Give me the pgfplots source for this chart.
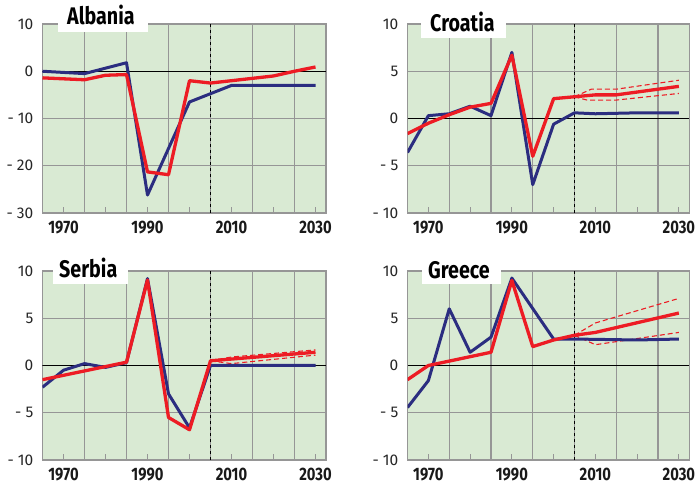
\documentclass[border=0pt]{standalone}
\usepackage{fontspec}
\setmainfont{Fira Sans}
\newfontfamily\condfont[FakeStretch=0.82]{Fira Sans}
\usepackage{pgfplots}
\pgfplotsset{compat=1.18}

\definecolor{bgg}{RGB}{217,234,211}
\definecolor{gridc}{RGB}{150,150,150}
\definecolor{navy}{RGB}{43,45,128}
\definecolor{bred}{RGB}{237,28,36}

\pgfplotsset{
  panel/.style={
    scale only axis, height=189pt,
    xmin=1965, xmax=2032.5,
    axis background/.style={fill=bgg},
    axis line style={gridc, line width=1.2pt},
    grid=major, major grid style={gridc, line width=1.2pt},
    xtick={1975,1985,...,2025}, xticklabels={},
    major tick length=0pt,
    minor xtick={1970,1980,...,2030},
    minor tick length=6pt, minor tick style={gridc, line width=0.9pt},
    tick align=inside, xtick pos=bottom, ytick pos=left,
    extra x ticks={1970,1990,2010,2030},
    extra x tick labels={1970,1990,2010,2030},
    extra x tick style={grid=none, major tick length=0pt,
      tick label style={font=\condfont\bfseries\fontsize{18}{18}\selectfont,
        text=black!90, inner sep=0pt, yshift=-8pt}},
    yticklabel style={font=\fontsize{15.5}{15.5}\selectfont, text=black!85,
      inner sep=0pt, xshift=-9pt},
  },
  blueline/.style={navy, line width=3pt, line join=round},
  redline/.style={bred, line width=3.3pt, line join=round},
  reddash/.style={bred, line width=1.1pt, dash pattern=on 5pt off 3pt},
}

\newcommand{\ttl}[1]{{\condfont\bfseries\fontsize{24}{24}\selectfont #1}}

\begin{document}
\begin{tikzpicture}
\path[use as bounding box] (0pt,0pt) rectangle (695pt,484pt);

% Albania
\begin{axis}[panel, width=283.5pt, at={(42.5pt,271pt)}, anchor=south west,
  ymin=-30, ymax=10, ytick={-30,-20,-10,0,10},
  yticklabels={- 30,- 20,- 10,0,10}]
\addplot[black, line width=0.8pt] coordinates {(1965,0) (2032.5,0)};
\addplot[black, line width=1pt, dashed] coordinates {(2005,-30) (2005,10)};
\addplot[blueline] coordinates {
  (1965,0) (1975,-0.5) (1985,1.8) (1990,-26.2) (2000,-6.5) (2010,-3.0) (2020,-3.0) (2030,-3.0)};
\addplot[redline] coordinates {
  (1965,-1.4) (1975,-1.8) (1980,-0.85) (1985,-0.7) (1990,-21.3) (1995,-21.9)
  (2000,-2.0) (2005,-2.5) (2010,-2.0) (2015,-1.5) (2020,-1.0) (2025,0) (2030,0.9)};
\end{axis}

% Croatia
\begin{axis}[panel, width=281.8pt, at={(407.5pt,271pt)}, anchor=south west,
  ymin=-10, ymax=10, ytick={-10,-5,0,5,10},
  yticklabels={- 10,- 5,0,5,10}]
\addplot[black, line width=0.8pt] coordinates {(1965,0) (2032.5,0)};
\addplot[black, line width=1pt, dashed] coordinates {(2005,-10) (2005,10)};
\addplot[reddash] coordinates {(2005,2.3) (2009,3.1) (2015,3.1) (2030,4.05)};
\addplot[reddash] coordinates {(2005,2.3) (2008,1.95) (2015,1.95) (2030,2.65)};
\addplot[blueline] coordinates {
  (1965,-3.6) (1970,0.3) (1975,0.5) (1980,1.3) (1985,0.3) (1990,7.0) (1995,-7.0)
  (2000,-0.6) (2005,0.6) (2010,0.5) (2020,0.6) (2030,0.6)};
\addplot[redline] coordinates {
  (1965,-1.6) (1970,-0.5) (1975,0.4) (1980,1.2) (1985,1.6) (1990,6.7) (1995,-4.0)
  (2000,2.1) (2005,2.3) (2010,2.5) (2015,2.5) (2030,3.4)};
\end{axis}

% Serbia
\begin{axis}[panel, width=283.5pt, at={(42.5pt,24pt)}, anchor=south west,
  ymin=-10, ymax=10, ytick={-10,-5,0,5,10},
  yticklabels={- 10,- 5,0,5,10}]
\addplot[black, line width=0.8pt] coordinates {(1965,0) (2032.5,0)};
\addplot[black, line width=1pt, dashed] coordinates {(2005,-10) (2005,10)};
\addplot[reddash] coordinates {(2005,0.5) (2010,0.9) (2030,1.65)};
\addplot[reddash] coordinates {(2005,0.5) (2010,0.2) (2030,1.1)};
\addplot[blueline] coordinates {
  (1965,-2.3) (1970,-0.5) (1975,0.2) (1980,-0.2) (1985,0.3) (1990,9.2) (1995,-3.0)
  (2000,-6.6) (2005,0) (2030,0)};
\addplot[redline] coordinates {
  (1965,-1.5) (1985,0.35) (1990,9.05) (1995,-5.5) (2000,-6.8) (2005,0.5) (2030,1.4)};
\end{axis}

% Greece
\begin{axis}[panel, width=281.8pt, at={(407.5pt,24pt)}, anchor=south west,
  ymin=-10, ymax=10, ytick={-10,-5,0,5,10},
  yticklabels={- 10,- 5,0,5,10}]
\addplot[black, line width=0.8pt] coordinates {(1965,0) (2032.5,0)};
\addplot[black, line width=1pt, dashed] coordinates {(2005,-10) (2005,10)};
\addplot[reddash] coordinates {(2005,3.2) (2010,4.5) (2030,7.1)};
\addplot[reddash] coordinates {(2005,3.2) (2010,2.2) (2030,3.5)};
\addplot[blueline] coordinates {
  (1965,-4.45) (1970,-1.6) (1975,6.0) (1980,1.4) (1985,3.0) (1990,9.25) (2000,2.8)
  (2005,2.8) (2020,2.7) (2030,2.8)};
\addplot[redline] coordinates {
  (1965,-1.5) (1970,0) (1985,1.4) (1990,9.0) (1995,2.0) (2000,2.7) (2005,3.2)
  (2010,3.5) (2030,5.55)};
\end{axis}

% titles
\fill[white] (58pt,452pt) rectangle (148pt,484pt);
\node[anchor=base west, inner sep=0pt] at (67pt,459pt) {\ttl{Albania}};
\fill[white] (421pt,446pt) rectangle (506pt,484pt);
\node[anchor=base west, inner sep=0pt] at (430pt,452pt) {\ttl{Croatia}};
\fill[white] (53pt,200pt) rectangle (128pt,236pt);
\node[anchor=base west, inner sep=0pt] at (59pt,206pt) {\ttl{Serbia}};
\fill[white] (422pt,200pt) rectangle (501pt,236pt);
\node[anchor=base west, inner sep=0pt] at (428pt,205pt) {\ttl{Greece}};
\end{tikzpicture}
\end{document}
